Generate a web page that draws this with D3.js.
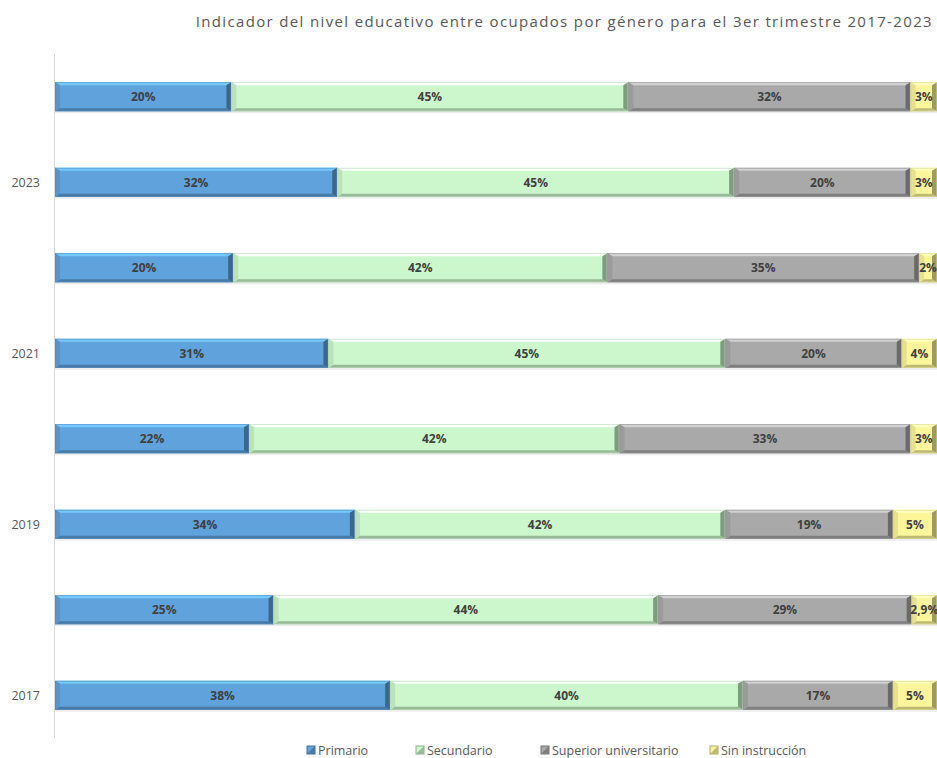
<!DOCTYPE html>
<html>
<head>
<meta charset="utf-8">
<script src="https://cdn.jsdelivr.net/npm/d3@7"></script>
<style>
  body { margin: 0; background: #fff; }
  svg { display: block; font-family: "Open Sans", sans-serif; }
</style>
</head>
<body>
<svg id="chart" width="937" height="758"></svg>
<script>
// bars from bottom to top
var categories = ["2017", "2017b", "2019", "2019b", "2021", "2021b", "2023", "2023b"];
var tickLabels = ["2017", "", "2019", "", "2021", "", "2023", ""];
var series = ["Primario", "Secundario", "Superior universitario", "Sin instrucción"];
var primario   = [38, 25, 34, 22, 31, 20, 32, 20];
var secundario = [40, 44, 42, 42, 45, 42, 45, 45];
var superior   = [17, 29, 19, 33, 20, 35, 20, 32];
var sinInstr   = [5, 2.9, 5, 3, 4, 2, 3, 3];
var colors = ["#5fa2dc", "#ccf7cc", "#a9a9a9", "#fbf69c"];

var svg = d3.select("#chart");
var plotLeft = 55, plotRight = 937, plotTop = 54, plotBottom = 738;

var rows = categories.map(function(c, i) {
    return {cat: c, Primario: primario[i], Secundario: secundario[i],
            "Superior universitario": superior[i], "Sin instrucción": sinInstr[i]};
});
var stacked = d3.stack().keys(series).offset(d3.stackOffsetExpand)(rows);

var x = d3.scaleLinear().domain([0, 1]).range([plotLeft, plotRight]);
var y = d3.scaleBand().domain(categories.slice().reverse()).range([plotTop, plotBottom])
    .paddingInner(0.66).paddingOuter(0.33);

// title
svg.append("text")
    .attr("x", 933).attr("y", 27)
    .attr("text-anchor", "end")
    .style("font-size", "15px")
    .style("letter-spacing", "1.35px")
    .style("fill", "#595959")
    .text("Indicador del nivel educativo entre ocupados por género para el 3er trimestre 2017-2023");

var bs = 5, bt = 3;
var g = svg.append("g");

stacked.forEach(function(layer, si) {
    var base = d3.color(colors[si]);
    var lg = g.append("g");
    layer.forEach(function(d, i) {
        var x0 = x(d[0]), x1 = x(d[1]), y0 = y(categories[i]), h = y.bandwidth(), w = x1 - x0;
        var seg = lg.append("g");
        seg.append("rect").attr("x", x0).attr("y", y0 + 2).attr("width", w).attr("height", h)
            .attr("fill", "#000").attr("opacity", 0.07);
        seg.append("rect").attr("x", x0).attr("y", y0).attr("width", w).attr("height", h)
            .attr("fill", base.formatHex());
        // bevel faces
        seg.append("polygon")
            .attr("points", [[x0, y0], [x1, y0], [x1 - bs, y0 + bt], [x0 + bs, y0 + bt]].join(" "))
            .attr("fill", base.brighter(0.6).formatHex());
        seg.append("polygon")
            .attr("points", [[x0, y0 + h], [x1, y0 + h], [x1 - bs, y0 + h - bt], [x0 + bs, y0 + h - bt]].join(" "))
            .attr("fill", base.darker(0.8).formatHex());
        seg.append("polygon")
            .attr("points", [[x0, y0], [x0 + bs, y0 + bt], [x0 + bs, y0 + h - bt], [x0, y0 + h]].join(" "))
            .attr("fill", base.darker(0.25).formatHex());
        seg.append("polygon")
            .attr("points", [[x1, y0], [x1 - bs, y0 + bt], [x1 - bs, y0 + h - bt], [x1, y0 + h]].join(" "))
            .attr("fill", base.darker(1.3).formatHex());
        seg.append("rect").attr("x", x0 + 0.5).attr("y", y0 + 0.5).attr("width", w - 1).attr("height", h - 1)
            .attr("fill", "none").attr("stroke", base.darker(0.4).formatHex()).attr("stroke-width", 0.5);
    });
});

// data labels
var vals = [primario, secundario, superior, sinInstr];
stacked.forEach(function(layer, si) {
    layer.forEach(function(d, i) {
        var v = vals[si][i];
        g.append("text")
            .attr("x", (x(d[0]) + x(d[1])) / 2)
            .attr("y", y(categories[i]) + y.bandwidth() / 2 + 4.5)
            .attr("text-anchor", "middle")
            .style("font-size", "12px")
            .style("font-weight", "bold")
            .style("fill", "#404040")
            .text(String(v).replace(".", ",") + "%");
    });
});

// y axis
svg.append("line").attr("x1", plotLeft - 0.5).attr("x2", plotLeft - 0.5).attr("y1", plotTop).attr("y2", plotBottom)
    .attr("stroke", "#d9d9d9");
categories.forEach(function(c, i) {
    if (!tickLabels[i]) return;
    svg.append("text")
        .attr("x", 40).attr("y", y(c) + y.bandwidth() / 2 + 4.5)
        .attr("text-anchor", "end")
        .style("font-size", "12.5px")
        .style("fill", "#595959")
        .text(tickLabels[i]);
});

// legend
var legendX = [307, 416, 541, 710];
series.forEach(function(s, i) {
    var item = svg.append("g").attr("transform", "translate(" + legendX[i] + ",746)");
    var c = d3.color(colors[i]);
    item.append("rect").attr("width", 8).attr("height", 8).attr("fill", c.formatHex())
        .attr("stroke", c.darker(1).formatHex()).attr("stroke-width", 1);
    item.append("path").attr("d", "M0,8 L8,0 L8,8 Z").attr("fill", c.darker(0.8).formatHex());
    item.append("text").attr("x", 11).attr("y", 8.5)
        .style("font-size", "12.5px").style("fill", "#595959").text(s);
});
</script>
</body>
</html>
